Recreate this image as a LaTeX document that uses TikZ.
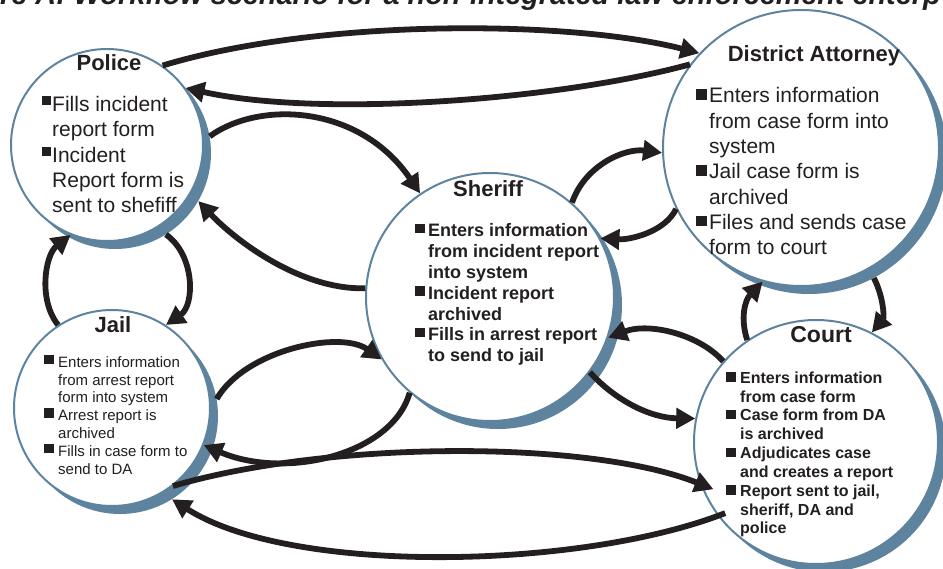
\documentclass[tikz,border=0pt]{standalone}
\usepackage{fontspec}
\setmainfont{Liberation Sans}
\usetikzlibrary{arrows.meta}
\definecolor{cblue}{RGB}{94,131,158}
\definecolor{ink}{RGB}{35,31,32}
\newcommand\blt{\llap{\rule[\bltr]{\blts}{\blts}\hspace{\bltg}}}
\def\bltr{3pt}\def\blts{8pt}\def\bltg{3pt}
\tikzset{
  circ/.style={circle, draw=cblue, line width=2pt, fill=white, inner sep=0pt},
  shad/.style={circle, fill=cblue, inner sep=0pt},
  flow/.style={draw=ink, line width=5.8pt, -{Triangle[length=19pt,width=20pt]}},
  ttl/.style={inner sep=0pt, anchor=base, text=ink, font=\fontsize{22}{26}\selectfont\bfseries},
  txt/.style={inner sep=0pt, anchor=base west, text=ink},
}
\begin{document}
\begin{tikzpicture}[x=1pt,y=-1pt]
\useasboundingbox (0,0) rectangle (943,569);
\clip (0,0) rectangle (943,569);
% heading (cut off by the top edge, as in the reference)
\node[inner sep=0pt, anchor=base west, text=ink, font=\fontsize{28.8}{30}\selectfont\bfseries\itshape] (heading) at (0,4.5) {re A: Workflow scenario for a non-integrated law enforcement enterp};
% shadows
\node[shad, minimum size=192pt] (polsh) at (115,153) {};
\node[shad, minimum size=276pt] (dash) at (809,156) {};
\node[shad, minimum size=248pt] (shsh) at (498,305) {};
\node[shad, minimum size=196pt] (jailsh) at (120,416) {};
\node[shad, minimum size=244pt] (courtsh) at (824,450) {};
% circles
\node[circ, minimum size=192pt] (pol) at (107,145) {};
\node[circ, minimum size=276pt] (da) at (801,148) {};
\node[circ, minimum size=248pt] (sh) at (490,297) {};
\node[circ, minimum size=196pt] (jail) at (112,408) {};
\node[circ, minimum size=244pt] (court) at (816,442) {};
% Police
\begin{scope}
\def\bltr{6.3pt}\def\blts{9pt}\def\bltg{1.5pt}
\node[ttl] (pol-title) at (109,71) {Police};
\foreach \t [count=\i] in {{\blt Fills incident},{report form},{\blt Incident},{Report form is},{sent to shefiff}}
  \node[txt, font=\fontsize{21}{25}\selectfont] (pol-t\i) at (52,{111.7+25.3*(\i-1)}) {\t};
\end{scope}
% District Attorney
\begin{scope}
\def\bltr{3pt}\def\blts{10.5pt}\def\bltg{2.5pt}
\node[ttl] (da-title) at (814,62) {District Attorney};
\foreach \t [count=\i] in {{\blt Enters information},{from case form into},{system},{\blt Jail case form is},{archived},{\blt Files and sends case},{form to court}}
  \node[txt, font=\fontsize{21}{25}\selectfont] (da-t\i) at (709,{103+25.3*(\i-1)}) {\t};
\end{scope}
% Sheriff
\begin{scope}
\def\bltr{3.5pt}\def\blts{9.5pt}\def\bltg{3.5pt}
\node[ttl] (sh-title) at (488,197) {Sheriff};
\foreach \t [count=\i] in {{\blt Enters information},{from incident report},{into system},{\blt Incident report},{archived},{\blt Fills in arrest report},{to send to jail}}
  \node[txt, font=\fontsize{18}{21}\selectfont\bfseries] (sh-t\i) at (428,{236.7+20.83*(\i-1)}) {\t};
\end{scope}
% Jail
\begin{scope}
\def\bltr{3.2pt}\def\blts{9.5pt}\def\bltg{4.5pt}
\node[ttl] (jail-title) at (113,333) {Jail};
\foreach \t [count=\i] in {{\blt Enters information},{from arrest report},{form into system},{\blt Arrest report is},{archived},{\blt Fills in case form to},{send to DA}}
  \node[txt, font=\fontsize{15}{18}\selectfont] (jail-t\i) at (58,{367.3+17.8*(\i-1)}) {\t};
\end{scope}
% Court
\begin{scope}
\def\bltr{1.6pt}\def\blts{9.5pt}\def\bltg{4.5pt}
\node[ttl, font=\fontsize{23}{26}\selectfont\bfseries] (court-title) at (821,343) {Court};
\foreach \t [count=\i] in {{\blt Enters information},{from case form},{\blt Case form from DA},{is archived},{\blt Adjudicates case},{and creates a report},{\blt Report sent to jail,},{sheriff, DA and},{police}}
  \node[txt, font=\fontsize{16}{19}\selectfont\bfseries] (court-t\i) at (740,{383.3+18.83*(\i-1)}) {\t};
\end{scope}
% connectors
\draw[flow] (pol.55) .. controls (320,18) and (570,20) .. (da.137);
\draw[flow] (da.143) .. controls (560,100) and (320,118) .. (pol.36);
\draw[flow] (polsh.10) .. controls (260,100) and (360,105) .. (sh.124);
\draw[flow] (sh.176) .. controls (300,290) and (235,240) .. (polsh.-30);
\draw[flow] (jail.123) .. controls (38,300) and (45,255) .. (pol.248);
\draw[flow] (polsh.-58) .. controls (195,255) and (195,305) .. (jail.57);
\draw[flow] (sh.49) .. controls (585,165) and (625,148) .. (da.182);
\draw[flow] (da.206) .. controls (665,232) and (630,240) .. (sh.28);
\draw[flow] (court.139) .. controls (700,335) and (650,322) .. (sh.-19);
\draw[flow] (sh.-37) .. controls (615,400) and (650,418) .. (court.169);
\draw[flow] (court.124) .. controls (740,318) and (745,300) .. (da.254);
\draw[flow] (dash.-62) .. controls (884,298) and (884,318) .. (court.63);
\draw[flow] (jailsh.10) .. controls (245,350) and (340,330) .. (sh.210);
\draw[flow] (sh.230) .. controls (392,455) and (285,480) .. (jail.-22);
\draw[flow, shorten >=-14pt] (jail.-52) .. controls (330,440) and (590,440) .. (court.200);
\draw[flow, shorten <=-8pt] (court.217) .. controls (580,570) and (290,575) .. (jailsh.-58);
\end{tikzpicture}
\end{document}
